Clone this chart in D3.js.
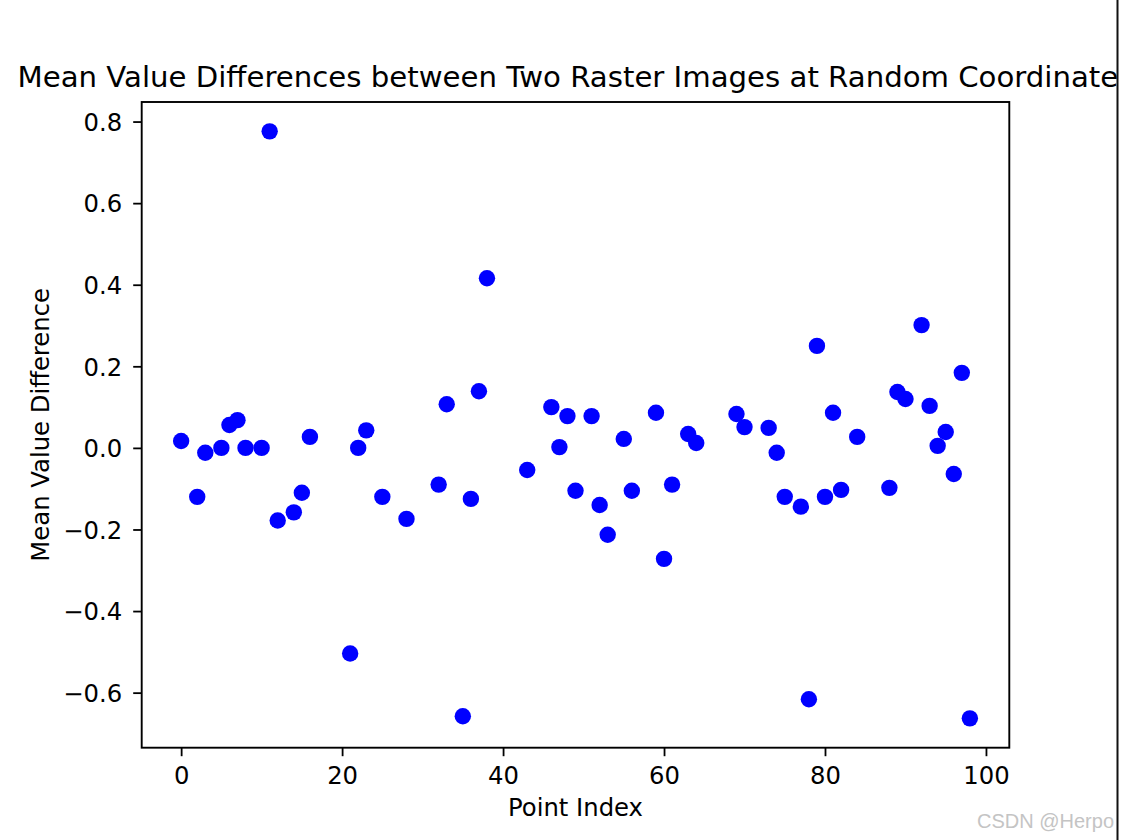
<!DOCTYPE html>
<html>
<head>
<meta charset="utf-8">
<script src="https://cdn.jsdelivr.net/npm/d3@7"></script>
<style>
  html, body { margin: 0; padding: 0; background: #fff; }
  svg { display: block; }
  text { font-family: "DejaVu Sans", sans-serif; fill: #000; }
</style>
</head>
<body>
<svg id="chart" width="1121" height="840"></svg>
<script>
// Data
const pointIndex = [0, 2, 3, 5, 6, 7, 8, 10, 11, 12, 14, 15, 16, 21, 22, 23, 25, 28, 32, 33,
  35, 36, 37, 38, 43, 46, 47, 48, 49, 51, 52, 53, 55, 56, 59, 60, 61, 63, 64, 69,
  70, 73, 74, 75, 77, 78, 79, 80, 81, 82, 84, 88, 89, 90, 92, 93, 94, 95, 96, 97, 98];
const meanDiff = [0.017, -0.120, -0.012, 0.000, 0.056, 0.068, 0.000, 0.000, 0.776, -0.178,
  -0.158, -0.110, 0.027, -0.504, 0.000, 0.043, -0.120, -0.174, -0.090, 0.107,
  -0.658, -0.125, 0.139, 0.416, -0.054, 0.100, 0.002, 0.078, -0.105, 0.078,
  -0.140, -0.213, 0.022, -0.105, 0.086, -0.272, -0.090, 0.034, 0.012, 0.083,
  0.051, 0.049, -0.012, -0.120, -0.144, -0.616, 0.250, -0.120, 0.086, -0.103,
  0.027, -0.098, 0.137, 0.120, 0.301, 0.103, 0.005, 0.039, -0.064, 0.184, -0.663];
const xTicks = [0, 20, 40, 60, 80, 100];
const yTicks = [-0.6, -0.4, -0.2, 0.0, 0.2, 0.4, 0.6, 0.8];
const titleText = "Mean Value Differences between Two Raster Images at Random Coordinates";
const xLabel = "Point Index";
const yLabel = "Mean Value Difference";
const watermark = "CSDN @Herpo";

const svg = d3.select("#chart");
const L = 141.7, R = 1009.3, T = 102, B = 747.7;

const xExt = d3.extent(pointIndex), yExt = d3.extent(meanDiff);
const xPad = (xExt[1] - xExt[0]) * 0.05, yPad = (yExt[1] - yExt[0]) * 0.05;
const x = d3.scaleLinear().domain([xExt[0] - xPad, xExt[1] + xPad]).range([L, R]);
const y = d3.scaleLinear().domain([yExt[0] - yPad, yExt[1] + yPad]).range([B, T]);

const fmtY = v => (v < 0 ? "\u2212" : "") + Math.abs(v).toFixed(1);

// points
svg.append("g").selectAll("circle")
  .data(pointIndex.map((d, i) => [d, meanDiff[i]]))
  .join("circle")
  .attr("cx", d => x(d[0]))
  .attr("cy", d => y(d[1]))
  .attr("r", 8.2)
  .attr("fill", "#0000ff");

// axes
const xAxis = svg.append("g").attr("transform", `translate(0,${B})`)
  .call(d3.axisBottom(x).tickValues(xTicks).tickSize(8.5).tickPadding(8.5).tickFormat(d3.format("d")));
const yAxis = svg.append("g").attr("transform", `translate(${L},0)`)
  .call(d3.axisLeft(y).tickValues(yTicks).tickSize(8.5).tickPadding(11).tickFormat(fmtY));
[xAxis, yAxis].forEach(a => {
  a.select(".domain").remove();
  a.selectAll(".tick line").attr("stroke", "#000").attr("stroke-width", 1.8);
  a.selectAll(".tick text").attr("fill", "#000").style("font-size", "24.3px")
    .style("font-family", "'DejaVu Sans', sans-serif");
});
xAxis.selectAll(".tick text").attr("y", 36.3).attr("dy", 0);
yAxis.selectAll(".tick text").attr("dy", "0.36em");

// frame
svg.append("rect").attr("x", L).attr("y", T).attr("width", R - L).attr("height", B - T)
  .attr("fill", "none").attr("stroke", "#000").attr("stroke-width", 1.9);

// labels
svg.append("text").attr("x", (L + R) / 2).attr("y", 86.5).attr("text-anchor", "middle")
  .style("font-size", "29.2px").text(titleText);
svg.append("text").attr("x", (L + R) / 2).attr("y", 816).attr("text-anchor", "middle")
  .style("font-size", "24.3px").text(xLabel);
svg.append("text").attr("transform", `translate(49,${(T + B) / 2}) rotate(-90)`)
  .attr("text-anchor", "middle").style("font-size", "24.3px").text(yLabel);

// right border (screenshot crop) and watermark
svg.append("rect").attr("x", 1118).attr("y", 0).attr("width", 3).attr("height", 840).attr("fill", "#fff");
svg.append("line").attr("x1", 1117.5).attr("x2", 1117.5).attr("y1", 0).attr("y2", 840)
  .attr("stroke", "#111").attr("stroke-width", 2);
svg.append("text").attr("x", 977).attr("y", 828)
  .style("font-family", "'Liberation Sans', Arial, sans-serif").style("font-size", "20px")
  .style("fill", "#c4c4c4").text(watermark);
</script>
</body>
</html>
